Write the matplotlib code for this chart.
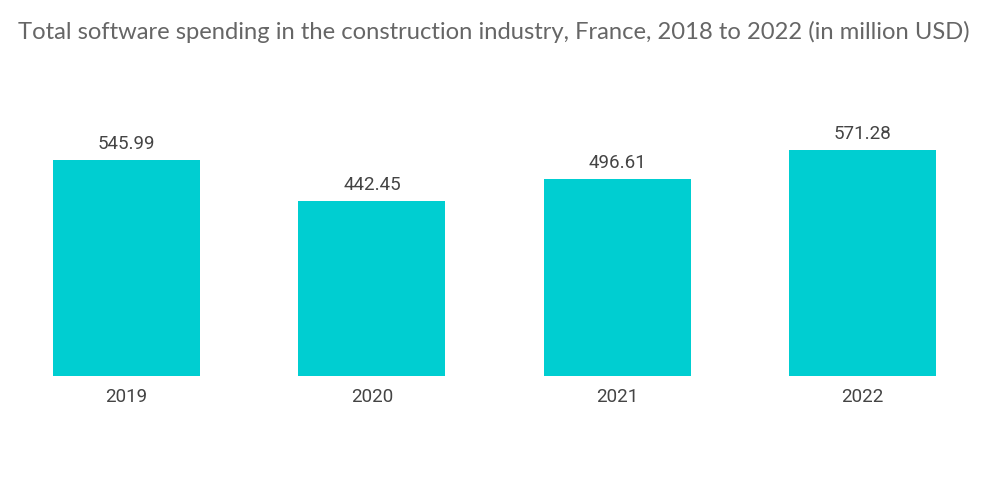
import matplotlib
matplotlib.use("Agg")
import matplotlib.pyplot as plt

# Data
years = ["2019", "2020", "2021", "2022"]
spending = [545.99, 442.45, 496.61, 571.28]

bar_color = "#00CED1"

fig = plt.figure(figsize=(10, 5.04), dpi=100)
ax = fig.add_axes([0.004, 0.254, 0.981, 0.548])

x = range(len(years))
bars = ax.bar(x, spending, width=0.6, color=bar_color)

# value labels above each bar
for rect, val in zip(bars, spending):
    ax.annotate(f"{val:.2f}", (rect.get_x() + rect.get_width() / 2, rect.get_height()),
                xytext=(0, 5), textcoords="offset points", ha="center", va="bottom",
                fontsize=13.5, color="#444444", family="Roboto")

ax.set_xlim(-0.5, len(years) - 0.5)
ax.set_ylim(0, 697)
ax.set_xticks(list(x))
ax.set_xticklabels(years, fontsize=13.5, color="#444444", family="Roboto")
ax.tick_params(axis="x", length=0, pad=9)
ax.set_yticks([])
for side in ["top", "right", "left", "bottom"]:
    ax.spines[side].set_visible(False)

fig.text(0.018, 0.937, "Total software spending in the construction industry, France, 2018 to 2022 (in million USD)",
         fontsize=17.1, color="#666666", family="Lato", ha="left", va="center")

fig.savefig("out.png", dpi=100)
